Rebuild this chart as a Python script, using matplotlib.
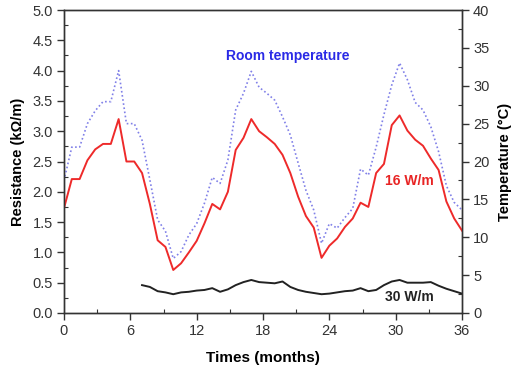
import numpy as np
import matplotlib
matplotlib.use("Agg")
import matplotlib.pyplot as plt
from matplotlib.ticker import MultipleLocator

plt.rcParams['font.family'] = ['Liberation Sans', 'DejaVu Sans']

# time grid (months), uniform sampling
months = np.linspace(0, 36, 52)

# 16 W/m resistance (kOhm/m)
res_16 = [1.73, 2.21, 2.21, 2.52, 2.70, 2.79, 2.79, 3.20, 2.50, 2.50,
          2.31, 1.80, 1.20, 1.09, 0.71, 0.82, 1.00, 1.19, 1.48, 1.80,
          1.71, 2.00, 2.69, 2.89, 3.20, 3.00, 2.90, 2.79, 2.61, 2.31,
          1.92, 1.60, 1.41, 0.91, 1.11, 1.23, 1.42, 1.56, 1.82, 1.75,
          2.31, 2.46, 3.10, 3.26, 3.01, 2.86, 2.76, 2.55, 2.36, 1.84,
          1.56, 1.36]

# Room temperature (deg C)
temp_room = [17.5, 21.9, 21.9, 25.0, 26.7, 27.9, 27.9, 32.0, 25.0, 25.0,
             22.8, 17.6, 12.3, 10.8, 7.2, 8.1, 10.3, 11.8, 14.5, 17.9,
             17.1, 20.2, 26.8, 29.0, 31.9, 29.8, 29.0, 28.1, 25.9, 23.5,
             19.8, 16.2, 13.6, 9.2, 11.8, 11.2, 12.6, 13.8, 19.0, 18.2,
             21.9, 26.2, 30.1, 33.0, 30.8, 27.8, 26.8, 24.6, 21.3, 16.8,
             14.6, 13.6]

# 30 W/m resistance (kOhm/m), starts at month ~7
months_30 = months[10:]
res_30 = [0.46, 0.43, 0.36, 0.34, 0.31, 0.34, 0.35, 0.37, 0.38, 0.41,
          0.35, 0.39, 0.46, 0.51, 0.545, 0.51, 0.50, 0.49, 0.52, 0.43,
          0.38, 0.35, 0.33, 0.31, 0.32, 0.34, 0.36, 0.37, 0.41, 0.36,
          0.38, 0.46, 0.52, 0.545, 0.50, 0.50, 0.50, 0.51, 0.45, 0.40,
          0.36, 0.32]

fig = plt.figure(figsize=(5.26, 3.76), dpi=100)
ax = fig.add_axes([64/526, 1-313/376, (462-64)/526, (313-10)/376])
ax2 = ax.twinx()

ax.plot(months, res_16, color='#ee2a2a', lw=1.4, zorder=3)
ax.plot(months_30, res_30, color='#222222', lw=1.4, zorder=3)
ax2.plot(months, temp_room, color='#8080e8', lw=1.2, ls=(0, (1, 1.5)), zorder=2)

ax.set_xlim(0, 36)
ax.set_ylim(0, 5)
ax2.set_ylim(0, 40)

ax.xaxis.set_major_locator(MultipleLocator(6))
ax.xaxis.set_minor_locator(MultipleLocator(3))
ax.yaxis.set_major_locator(MultipleLocator(0.5))
ax.yaxis.set_minor_locator(MultipleLocator(0.25))
ax2.yaxis.set_major_locator(MultipleLocator(5))
ax2.yaxis.set_minor_locator(MultipleLocator(2.5))

ax.yaxis.set_major_formatter(matplotlib.ticker.FormatStrFormatter('%.1f'))

tick_col = '#333333'
for a in (ax, ax2):
    a.tick_params(which='major', direction='out', length=5, width=1.0,
                  labelsize=10.5, colors=tick_col, pad=3)
    a.tick_params(which='minor', direction='in', length=3, width=0.8,
                  colors=tick_col)
    for s in a.spines.values():
        s.set_linewidth(1.0)
        s.set_color('#333333')
ax.tick_params(axis='x', which='both', top=False)

ax.set_xlabel('Times (months)', fontsize=11, fontweight='bold', labelpad=9)
ax.set_ylabel('Resistance (k\u03a9/m)', fontsize=10.5, fontweight='bold', labelpad=5)
ax2.set_ylabel('Temperature (\u00b0C)', fontsize=10.5, fontweight='bold', labelpad=6)

ax.text(20.25, 4.24, 'Room temperature', color='#2a2ae6', fontsize=10,
        fontweight='bold', ha='center', va='center')
ax.text(31.25, 2.17, '16 W/m', color='#e82424', fontsize=10,
        fontweight='bold', ha='center', va='center')
ax.text(31.25, 0.26, '30 W/m', color='#222222', fontsize=10,
        fontweight='bold', ha='center', va='center')

fig.savefig('out.png', dpi=100)
